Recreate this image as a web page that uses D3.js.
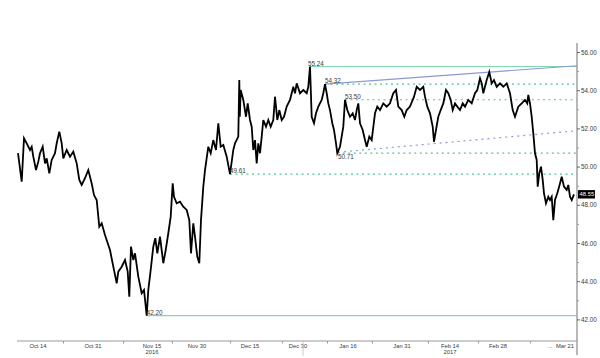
<!DOCTYPE html>
<html><head><meta charset="utf-8">
<script src="https://cdn.jsdelivr.net/npm/d3@7"></script>
<style>
html,body{margin:0;padding:0;background:#fff;}
svg{display:block;}
text{font-family:"Liberation Sans",Arial,sans-serif;}
</style></head>
<body>
<svg id="c" width="600" height="358"></svg>
<script>
// bar position (session units) and price
const bars = [1,4.7,7,9.7,13,14.7,16.3,19,21.3,23,25.7,28,29.7,32.3,34.7,38,39.7,42.3,44.7,46.3,49.7,53,56.3,59.7,62.3,64.7,68,71.3,74.7,77,79.7,82.3,84.7,88,91.3,93,96.3,99.7,101.3,104.7,108,110.7,112.3,114,116.3,118,121.3,124.7,127,129.7,131.3,133.7,136.3,138.3,140.3,143,146.3,148.7,151.3,153.7,155.7,157,159.7,163,166.3,169.7,172.3,174,176.3,178,180.3,182.3,184,186.3,188,191.3,193.7,196.3,199,201.3,203.7,206.3,209.7,213,216.3,218,221.3,222.3,222.8,223.7,226.3,229,230.7,233,234.7,236.3,238,239.7,241.3,243,244.7,246.3,249,251.3,253.7,256.3,258,260.3,262.3,264.7,267,269.7,273,276.3,278,279.7,283,286.3,289.7,291.3,293,294.7,297,299,301.3,304.7,306.3,308,309.7,311.3,313,315.3,317,319,320.3,323,326.3,328,330.3,333,335.7,338,339.7,341.3,343,345.7,348,349.7,352.3,354.7,358,360.3,363,366.3,369.7,373,376.3,379,381.3,384.7,387.3,389.7,393,397,399.7,403,406.3,408,410.3,413,415.7,417,419,421.3,423.7,426.3,429,431.3,433.7,435.7,438,440.3,443,445.7,448,451.3,454.7,458,460.3,463,464.7,466.3,469.7,472.3,474.7,477,479.7,483,486.3,489.7,493,495.7,498,501.3,504.7,508,510.3,511.3,513,514.7,516.3,518,519.7,520.7,522.3,524,525.7,527,529,531.3,533,534.7,536.3,538,540.3,543,544.7,547,549.7,551.3,553,554.7,557];
const prices = [50.70,49.21,51.48,51.22,50.87,51.04,50.52,49.82,50.26,50.70,51.04,50.17,50.43,49.65,50.35,50.70,51.22,51.83,51.22,50.43,50.87,50.52,50.78,50.17,49.30,49.04,49.39,49.82,49.12,48.51,48.25,46.85,47.03,46.42,45.90,45.63,44.76,43.89,44.50,44.76,45.11,44.50,43.19,45.81,45.11,45.46,44.24,43.37,43.54,42.20,43.54,44.59,45.81,46.25,45.46,46.33,44.94,45.63,46.51,47.38,49.12,48.42,48.08,48.16,47.90,47.73,47.20,45.46,47.03,46.33,45.28,44.94,47.20,48.95,49.82,51.04,50.70,51.39,50.87,52.27,51.04,51.13,50.52,49.61,50.87,51.22,51.57,54.53,52.61,54.01,53.49,52.61,53.31,52.44,52.09,50.87,51.39,50.17,51.22,50.70,51.57,52.44,52.09,52.44,52.09,52.44,53.66,52.44,52.96,52.44,52.61,53.14,53.49,54.18,53.84,54.36,53.84,54.01,53.84,54.18,55.24,52.61,52.27,52.79,53.14,53.49,53.84,54.32,53.84,53.31,52.96,52.27,51.92,51.22,50.71,51.04,52.09,53.50,52.96,52.61,52.79,52.44,52.96,53.31,52.27,51.92,51.39,51.04,51.57,51.39,52.79,53.14,52.96,53.31,53.14,53.31,53.84,54.01,53.14,52.96,52.61,52.96,53.14,53.66,54.18,54.01,54.18,53.66,53.14,52.79,52.09,51.30,51.92,52.61,52.96,53.31,54.01,53.84,53.49,52.96,53.31,53.14,52.96,53.31,53.14,53.49,53.31,53.84,54.01,54.62,54.36,53.84,54.53,54.95,54.36,54.53,54.18,54.36,54.18,54.36,53.84,52.96,52.61,53.14,53.31,53.49,53.31,53.75,53.31,52.61,51.74,50.70,50.35,48.95,49.65,50.00,49.30,48.60,48.08,48.42,48.25,48.42,47.20,48.25,48.60,49.12,49.47,48.95,48.78,49.04,48.42,48.25,48.55];

const dateLabels = ["Oct 14","Oct 31","Nov 15","Nov 30","Dec 15","Dec 30","Jan 16","Jan 31","Feb 14","Feb 28","...","Mar 21"];
const dateLabelBars = [21,76,135,180,233,281,331,385,433,481,533,548];
const tickBars = [46,106,155,213,265,310,355,411,461,513];
const yearLabels = ["2016","2017"];
const yearLabelBars = [135,433];
const yearBreakBar = 286;
const priceTicks = [42,44,46,48,50,52,54,56];
const minorTicks = [43,45,47,49,51,53,55];

// horizontal support/resistance levels: value, start bar, style
const levelValues = [55.24,42.20,54.32,53.50,50.71,49.61];
const levelStart = [293,129.7,308,328,320.3,213];
const levelDotted = [false,false,true,true,true,true];
const levelLabelBars = [291,129.7,308,328,321,213];
// trend lines
const trendSolid = {b0:308,v0:54.32,b1:560,v1:55.28};
const trendDotted = {b0:321,v0:50.75,b1:560,v1:51.88};
const lastPrice = 48.55;

const svg = d3.select("#c");
const x = d3.scaleLinear().domain([0,560]).range([17,577]);
const y = d3.scaleLinear().domain([42,56]).range([319.4,52]);

const axisColor = "#9a9a9a", textColor = "#3a3a3a";
const green = "#7ed8b0", greenDot = "#4fc88c", blue = "#8d98d6";

// levels
levelValues.forEach((v,i)=>{
  svg.append("line")
    .attr("x1",x(levelStart[i])).attr("x2",x(560))
    .attr("y1",y(v)).attr("y2",y(v))
    .attr("stroke", levelDotted[i]?greenDot:green)
    .attr("stroke-width", levelDotted[i]?1.2:1.1)
    .attr("stroke-dasharray", levelDotted[i]?"2,3.5":null);
});
svg.append("line")
  .attr("x1",x(trendSolid.b0)).attr("y1",y(trendSolid.v0))
  .attr("x2",x(trendSolid.b1)).attr("y2",y(trendSolid.v1))
  .attr("stroke",blue).attr("stroke-width",1.1);
svg.append("line")
  .attr("x1",x(trendDotted.b0)).attr("y1",y(trendDotted.v0))
  .attr("x2",x(trendDotted.b1)).attr("y2",y(trendDotted.v1))
  .attr("stroke",blue).attr("stroke-width",1.2).attr("stroke-dasharray","2,4");

// price line
const pts = bars.map((b,i)=>[b,prices[i]]);
svg.append("path")
  .datum(pts)
  .attr("fill","none").attr("stroke","#000").attr("stroke-width",1.8)
  .attr("stroke-linejoin","miter")
  .attr("d", d3.line().x(d=>x(d[0])).y(d=>y(d[1])));

// level labels
levelValues.forEach((v,i)=>{
  const below = (v===50.71);
  svg.append("text")
    .attr("x",x(levelLabelBars[i])).attr("y", below? y(v)+5.5 : y(v)-1)
    .attr("font-size",6.3).attr("fill",textColor)
    .text(d3.format(".2f")(v));
});

// bottom axis
const gx = svg.append("g").attr("transform","translate(0,341)");
gx.append("line").attr("x1",17).attr("x2",577).attr("y1",0).attr("y2",0)
  .attr("stroke",axisColor).attr("stroke-width",1.2);
gx.call(d3.axisBottom(x).tickValues(tickBars).tickFormat("").tickSize(2.5))
  .call(g=>g.select(".domain").remove())
  .call(g=>g.selectAll("line").attr("stroke",axisColor));
gx.selectAll("text.dl").data(dateLabels).enter().append("text")
  .attr("class","dl")
  .attr("x",(d,i)=>x(dateLabelBars[i])).attr("y",6.5)
  .attr("text-anchor","middle").attr("font-size",5.8).attr("fill",textColor)
  .text(d=>d);
gx.selectAll("text.yl").data(yearLabels).enter().append("text")
  .attr("class","yl")
  .attr("x",(d,i)=>x(yearLabelBars[i])).attr("y",12.5)
  .attr("text-anchor","middle").attr("font-size",5.8).attr("fill",textColor)
  .text(d=>d);
gx.append("line").attr("x1",x(yearBreakBar)).attr("x2",x(yearBreakBar))
  .attr("y1",0).attr("y2",15).attr("stroke","#c8c8c8").attr("stroke-width",1);

// right axis
const gy = svg.append("g").attr("transform","translate(577,0)");
gy.append("line").attr("x1",0).attr("x2",0).attr("y1",43).attr("y2",355)
  .attr("stroke",axisColor).attr("stroke-width",1.4);
gy.append("g").call(d3.axisRight(y).tickValues(minorTicks).tickFormat("").tickSize(2))
  .call(g=>g.select(".domain").remove())
  .call(g=>g.selectAll("line").attr("stroke",axisColor));
gy.append("g").call(d3.axisRight(y).tickValues(priceTicks).tickFormat(d3.format(".2f")).tickSize(3).tickPadding(1))
  .call(g=>g.select(".domain").remove())
  .call(g=>g.selectAll("line").attr("stroke","#666"))
  .call(g=>g.selectAll("text").attr("font-size",6.3).attr("fill",textColor)
    .attr("font-family","'Liberation Sans',Arial,sans-serif"));

// last price tag
gy.append("rect").attr("x",1).attr("y",y(lastPrice)-4.2).attr("width",17).attr("height",8.4).attr("fill","#000");
gy.append("text").attr("x",2.6).attr("y",y(lastPrice)+2.1)
  .attr("font-size",5.8).attr("fill","#fff").text(d3.format(".2f")(lastPrice));
</script>
</body></html>
